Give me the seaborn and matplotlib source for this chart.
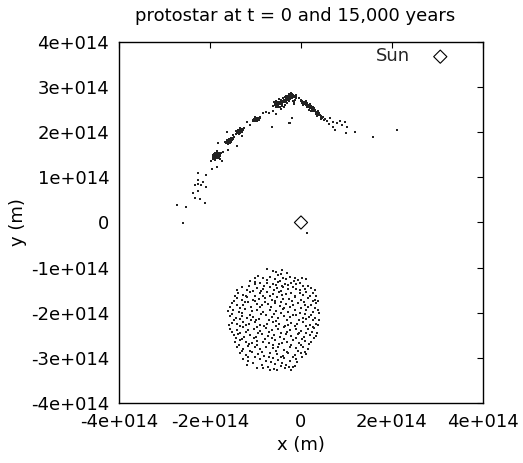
import numpy as np
import pandas as pd
import seaborn as sns
import matplotlib
matplotlib.use("Agg")
import matplotlib.pyplot as plt

# particle positions, in units of 1e14 m
# t = 0 : spherical cloud below the Sun
disk_pts = [
    (-0.75, -1.04), (-0.62, -1.08), (-0.42, -1.06), (-0.44, -1.14),
    (-0.94, -1.18), (-0.83, -1.23), (-0.68, -1.20), (-0.51, -1.17), (-0.24, -1.20),
    (-0.13, -1.23), (-1.12, -1.30), (-1.01, -1.31), (-0.57, -1.26), (-0.46, -1.29),
    (-0.32, -1.25), (-0.06, -1.27), (0.12, -1.26),
    (-1.14, -1.40), (-0.90, -1.34), (-0.75, -1.33), (-0.61, -1.37), (-0.50, -1.32),
    (-0.35, -1.36), (-0.21, -1.34), (-0.02, -1.33), (0.05, -1.40),
    (-1.30, -1.44), (-1.19, -1.50), (-0.97, -1.45), (-0.83, -1.47), (-0.68, -1.42),
    (-0.53, -1.46), (-0.39, -1.43), (-0.17, -1.42), (-0.10, -1.47), (0.23, -1.46),
    (-1.38, -1.56), (-1.27, -1.60), (-1.12, -1.55), (-1.01, -1.62), (-0.90, -1.57),
    (-0.75, -1.55), (-0.61, -1.59), (-0.48, -1.53), (-0.32, -1.58), (-0.21, -1.56),
    (-0.02, -1.57), (0.12, -1.53), (0.27, -1.57), (0.34, -1.62),
    (-1.41, -1.68), (-1.30, -1.71), (-1.18, -1.66), (-1.05, -1.72), (-0.92, -1.69),
    (-0.79, -1.68), (-0.64, -1.71), (-0.53, -1.66), (-0.39, -1.69), (-0.26, -1.70),
    (-0.13, -1.65), (0.01, -1.71), (0.16, -1.68), (0.31, -1.72),
    (-1.52, -1.79), (-1.40, -1.82), (-1.28, -1.83), (-1.16, -1.77), (-0.97, -1.80),
    (-0.86, -1.83), (-0.72, -1.81), (-0.57, -1.78), (-0.46, -1.84), (-0.32, -1.81),
    (-0.17, -1.83), (-0.06, -1.79), (0.09, -1.82), (0.23, -1.83), (0.34, -1.78),
    (-1.60, -1.96), (-1.49, -1.93), (-1.36, -1.98), (-1.23, -1.92), (-1.08, -1.97),
    (-0.96, -1.94), (-0.83, -1.99), (-0.68, -1.94), (-0.55, -1.96), (-0.40, -1.92),
    (-0.28, -1.98), (-0.13, -1.95), (-0.02, -2.00), (0.12, -1.94), (0.27, -1.98),
    (0.38, -1.93),
    (-1.56, -2.07), (-1.43, -2.11), (-1.30, -2.07), (-1.18, -2.12), (-1.05, -2.09),
    (-0.92, -2.13), (-0.77, -2.06), (-0.64, -2.10), (-0.50, -2.12), (-0.37, -2.07),
    (-0.24, -2.10), (-0.10, -2.06), (0.04, -2.12), (0.18, -2.09), (0.31, -2.11),
    (0.40, -2.16),
    (-1.52, -2.22), (-1.40, -2.25), (-1.27, -2.20), (-1.14, -2.24), (-1.01, -2.21),
    (-0.90, -2.27), (-0.75, -2.24), (-0.61, -2.20), (-0.48, -2.26), (-0.35, -2.30),
    (-0.21, -2.22), (-0.08, -2.25), (0.05, -2.21), (0.20, -2.27), (0.34, -2.24),
    (-1.55, -2.35), (-1.41, -2.38), (-1.28, -2.32), (-1.16, -2.39), (-1.03, -2.35),
    (-0.90, -2.40), (-0.77, -2.34), (-0.64, -2.38), (-0.50, -2.36), (-0.37, -2.32),
    (-0.24, -2.39), (-0.11, -2.35), (0.01, -2.41), (0.16, -2.37), (0.29, -2.34),
    (-1.48, -2.49), (-1.38, -2.47), (-1.25, -2.53), (-1.12, -2.49), (-0.99, -2.53),
    (-0.86, -2.46), (-0.72, -2.52), (-0.59, -2.49), (-0.46, -2.54), (-0.33, -2.47),
    (-0.21, -2.52), (-0.06, -2.48), (0.07, -2.53), (0.20, -2.49), (0.33, -2.52),
    (-1.46, -2.64), (-1.34, -2.61), (-1.21, -2.65), (-1.08, -2.66), (-0.96, -2.62),
    (-0.83, -2.64), (-0.70, -2.68), (-0.57, -2.61), (-0.42, -2.66), (-0.30, -2.64),
    (-0.17, -2.60), (-0.04, -2.66), (0.09, -2.62), (0.23, -2.64),
    (-1.41, -2.77), (-1.28, -2.80), (-1.16, -2.74), (-1.01, -2.77), (-0.90, -2.81),
    (-0.77, -2.75), (-0.62, -2.79), (-0.50, -2.76), (-0.37, -2.82), (-0.24, -2.75),
    (-0.10, -2.79), (0.04, -2.77), (0.16, -2.81),
    (-1.34, -2.90), (-1.21, -2.94), (-1.08, -2.88), (-0.94, -2.92), (-0.81, -2.95),
    (-0.68, -2.89), (-0.53, -2.92), (-0.40, -2.96), (-0.28, -2.90), (-0.13, -2.94),
    (-0.01, -2.89), (0.12, -2.92),
    (-1.27, -3.03), (-1.16, -3.07), (-0.90, -3.03), (-0.77, -3.06), (-0.62, -3.01),
    (-0.50, -3.05), (-0.37, -3.01), (-0.24, -3.06), (-0.11, -3.03),
    (-1.18, -3.16), (-0.86, -3.16), (-0.72, -3.20), (-0.57, -3.14), (-0.45, -3.18),
    (-0.32, -3.16), (-0.17, -3.20), (-0.83, -3.23), (-0.68, -3.26), (-0.52, -3.27),
    (-0.35, -3.23), (-0.21, -3.26), (-0.13, -3.18),
    # second pass, points between the rows above
    (-0.55, -1.10), (-0.30, -1.12),
    (-1.00, -1.24), (-0.75, -1.27), (-0.40, -1.23), (-0.15, -1.29), (0.02, -1.22),
    (-1.02, -1.37), (-0.82, -1.40), (-0.56, -1.38), (-0.42, -1.41), (-0.28, -1.38),
    (-0.10, -1.36), (0.15, -1.40),
    (-1.40, -1.49), (-1.06, -1.51), (-0.88, -1.52), (-0.60, -1.50), (-0.44, -1.52),
    (-0.28, -1.48), (-0.03, -1.50), (0.08, -1.47), (0.30, -1.50),
    (-1.45, -1.63), (-1.20, -1.62), (-0.84, -1.64), (-0.68, -1.62), (-0.42, -1.61),
    (-0.14, -1.63), (0.05, -1.60), (0.20, -1.64),
    (-1.48, -1.74), (-1.22, -1.76), (-1.00, -1.75), (-0.78, -1.77), (-0.58, -1.74),
    (-0.45, -1.76), (-0.20, -1.75), (0.06, -1.76), (0.26, -1.73), (0.38, -1.75),
    (-1.55, -1.88), (-1.33, -1.89), (-1.10, -1.87), (-0.90, -1.88), (-0.65, -1.88),
    (-0.38, -1.90), (-0.24, -1.87), (0.00, -1.89), (0.16, -1.87), (0.30, -1.90),
    (-1.52, -2.03), (-1.30, -2.01), (-1.12, -2.04), (-0.88, -2.02), (-0.60, -2.03),
    (-0.44, -2.01), (-0.18, -2.04), (0.08, -2.02), (0.22, -2.04), (0.40, -2.01),
    (-1.48, -2.16), (-1.35, -2.14), (-1.10, -2.17), (-0.98, -2.15), (-0.70, -2.16),
    (-0.55, -2.18), (-0.30, -2.15), (-0.04, -2.17), (0.12, -2.14), (0.26, -2.16),
    (-1.58, -2.28), (-1.33, -2.30), (-1.20, -2.28), (-0.96, -2.31), (-0.82, -2.29),
    (-0.55, -2.30), (-0.28, -2.27), (-0.14, -2.30), (0.10, -2.29), (0.26, -2.31),
    (0.38, -2.28),
    (-1.52, -2.43), (-1.34, -2.44), (-1.20, -2.42), (-0.95, -2.44), (-0.70, -2.43),
    (-0.44, -2.44), (-0.30, -2.42), (-0.05, -2.44), (0.11, -2.45), (0.24, -2.42),
    (0.36, -2.44),
    (-1.42, -2.57), (-1.30, -2.58), (-1.04, -2.56), (-0.80, -2.58), (-0.64, -2.57),
    (-0.38, -2.59), (-0.12, -2.57), (0.02, -2.58), (0.28, -2.57),
    (-1.36, -2.71), (-1.14, -2.70), (-0.96, -2.72), (-0.62, -2.71), (-0.48, -2.70),
    (-0.22, -2.72), (0.00, -2.71), (0.18, -2.70),
    (-1.30, -2.85), (-1.12, -2.84), (-0.86, -2.86), (-0.56, -2.85), (-0.30, -2.86),
    (-0.06, -2.84), (0.08, -2.86),
    (-1.16, -2.98), (-1.00, -2.99), (-0.70, -2.97), (-0.44, -2.99), (-0.18, -2.98),
    (0.02, -2.97),
    (-1.05, -3.11), (-0.66, -3.10), (-0.42, -3.11), (-0.08, -3.09),
    (-0.96, -3.22), (-0.60, -3.24), (-0.26, -3.21),
]

# t = 15,000 years : stretched arc with clumps
arc_pts = [
    # sparse lower end
    (-2.59, -0.01), (-2.73, 0.39), (-2.53, 0.34), (-2.11, 0.43), (-2.33, 0.54),
    (-2.22, 0.52), (-2.37, 0.65), (-2.26, 0.70), (-2.09, 0.79), (-2.20, 0.83),
    (-2.33, 0.83), (-2.26, 0.85), (-2.15, 0.90), (-2.26, 0.94), (-2.09, 1.05),
    (-2.26, 1.10), (-1.96, 1.19), (-1.85, 1.23), (0.13, -0.23),
    # clump 1
    (-1.92, 1.45), (-1.88, 1.48), (-1.85, 1.52), (-1.82, 1.55), (-1.80, 1.50),
    (-1.86, 1.42), (-1.90, 1.55), (-1.78, 1.47), (-1.84, 1.58), (-1.94, 1.50),
    (-1.87, 1.46), (-1.83, 1.49), (-1.89, 1.51), (-1.81, 1.44), (-1.76, 1.53),
    (-1.93, 1.40), (-1.88, 1.39), (-1.79, 1.40), (-1.98, 1.36), (-1.74, 1.37),
    (-1.71, 1.56), (-1.60, 1.61), (-1.82, 1.76),
    (-1.91, 1.47), (-1.89, 1.44), (-1.86, 1.49), (-1.84, 1.45), (-1.82, 1.52),
    (-1.80, 1.46), (-1.78, 1.51), (-1.87, 1.55), (-1.85, 1.56), (-1.91, 1.52),
    (-1.93, 1.46), (-1.83, 1.42), (-1.80, 1.55), (-1.88, 1.43), (-1.86, 1.45),
    (-1.84, 1.53),
    # clump 2
    (-1.64, 1.76), (-1.60, 1.78), (-1.56, 1.80), (-1.52, 1.83), (-1.58, 1.85),
    (-1.62, 1.82), (-1.54, 1.87), (-1.50, 1.86), (-1.48, 1.89), (-1.60, 1.74),
    (-1.57, 1.77), (-1.53, 1.79), (-1.66, 1.79), (-1.55, 1.84),
    (-1.63, 1.78), (-1.61, 1.80), (-1.59, 1.81), (-1.57, 1.83), (-1.55, 1.82),
    (-1.53, 1.85), (-1.51, 1.84), (-1.59, 1.76), (-1.56, 1.86), (-1.62, 1.77),
    (-1.50, 1.88), (-1.58, 1.79),
    (-1.63, 2.00), (-1.49, 1.94), (-1.40, 1.70),
    # clump 3
    (-1.43, 1.96), (-1.40, 1.99), (-1.36, 2.02), (-1.32, 2.05), (-1.28, 2.08),
    (-1.38, 2.06), (-1.34, 1.98), (-1.30, 2.01), (-1.26, 2.10), (-1.42, 2.02),
    (-1.35, 2.09), (-1.29, 2.04),
    (-1.41, 1.98), (-1.39, 2.02), (-1.37, 1.99), (-1.35, 2.04), (-1.33, 2.01),
    (-1.31, 2.07), (-1.29, 2.06), (-1.27, 2.05), (-1.38, 2.01), (-1.34, 2.06),
    (-1.36, 1.96),
    (-1.19, 2.23), (-1.12, 2.16), (-1.30, 1.92),
    # clump 4
    (-1.06, 2.25), (-1.02, 2.27), (-0.98, 2.29), (-0.94, 2.31), (-0.90, 2.32),
    (-1.04, 2.30), (-0.96, 2.25), (-1.00, 2.33), (-0.92, 2.28),
    (-1.05, 2.28), (-1.01, 2.30), (-0.99, 2.26), (-0.97, 2.32), (-0.95, 2.28),
    (-0.93, 2.30), (-1.03, 2.25), (-0.91, 2.33), (-0.97, 2.27),
    (-0.84, 2.43), (-0.76, 2.45), (-0.70, 2.43), (-0.62, 2.48), (-0.56, 2.40),
    (-0.64, 2.12), (-0.24, 2.20), (-0.20, 2.32), (-0.26, 2.20),
    # top clump
    (-0.62, 2.58), (-0.58, 2.62), (-0.55, 2.56), (-0.52, 2.64), (-0.50, 2.60),
    (-0.48, 2.68), (-0.45, 2.62), (-0.43, 2.70), (-0.40, 2.66), (-0.38, 2.72),
    (-0.35, 2.68), (-0.33, 2.75), (-0.30, 2.72), (-0.28, 2.78), (-0.25, 2.74),
    (-0.22, 2.80), (-0.20, 2.76), (-0.17, 2.82), (-0.15, 2.78), (-0.12, 2.80),
    (-0.10, 2.76), (-0.47, 2.55), (-0.42, 2.58), (-0.36, 2.61), (-0.31, 2.65),
    (-0.26, 2.69), (-0.60, 2.66), (-0.54, 2.70), (-0.48, 2.73), (-0.40, 2.76),
    (-0.34, 2.80), (-0.27, 2.84), (-0.22, 2.86), (-0.18, 2.70), (-0.14, 2.72),
    (-0.44, 2.52), (-0.38, 2.55), (-0.15, 2.62), (-0.15, 2.67),
    (-0.58, 2.60), (-0.55, 2.63), (-0.53, 2.59), (-0.51, 2.66), (-0.49, 2.63),
    (-0.46, 2.66), (-0.44, 2.64), (-0.41, 2.68), (-0.39, 2.69), (-0.37, 2.70),
    (-0.34, 2.72), (-0.32, 2.70), (-0.29, 2.75), (-0.27, 2.73), (-0.24, 2.77),
    (-0.21, 2.78), (-0.19, 2.80), (-0.16, 2.80), (-0.13, 2.78), (-0.11, 2.82),
    (-0.24, 2.82), (-0.30, 2.80), (-0.36, 2.77), (-0.45, 2.72), (-0.52, 2.68),
    (-0.56, 2.66), (-0.20, 2.84), (-0.26, 2.80), (-0.50, 2.57), (-0.41, 2.62),
    # tail to the right
    (-0.05, 2.75), (0.00, 2.72), (0.03, 2.70), (0.06, 2.68), (0.09, 2.66),
    (0.12, 2.63), (0.15, 2.60), (0.18, 2.58), (0.21, 2.55), (0.24, 2.52),
    (0.27, 2.50), (0.30, 2.47), (0.33, 2.45), (0.36, 2.42), (0.39, 2.40),
    (0.42, 2.38), (0.45, 2.36), (0.48, 2.34), (0.02, 2.65), (0.08, 2.62),
    (0.14, 2.55), (0.20, 2.62), (0.26, 2.56), (0.32, 2.40), (0.38, 2.46),
    (0.44, 2.30), (0.10, 2.70), (0.05, 2.60), (0.17, 2.50), (0.23, 2.46),
    (0.29, 2.53), (0.35, 2.36), (0.50, 2.28), (0.53, 2.30),
    (0.01, 2.70), (0.04, 2.66), (0.07, 2.65), (0.11, 2.60), (0.13, 2.65),
    (0.16, 2.57), (0.19, 2.53), (0.22, 2.58), (0.25, 2.48), (0.28, 2.46),
    (0.31, 2.50), (0.34, 2.42), (0.37, 2.38), (0.40, 2.42), (0.43, 2.34),
    (0.46, 2.32),
    (0.64, 2.32), (0.70, 2.23), (0.80, 2.20), (0.85, 2.25), (0.97, 2.23),
    (0.70, 2.12), (0.75, 2.05), (1.01, 2.12), (0.99, 1.98), (1.19, 2.00),
    (1.58, 1.90), (2.11, 2.05), (0.58, 2.26), (0.62, 2.18), (0.90, 2.15),
]

sun_x = [0.0]
sun_y = [0.0]

x_ticks = [-4, -2, 0, 2, 4]
x_tick_labels = ["-4e+014", "-2e+014", "0", "2e+014", "4e+014"]
y_ticks = [-4, -3, -2, -1, 0, 1, 2, 3, 4]
y_tick_labels = ["-4e+014", "-3e+014", "-2e+014", "-1e+014", "0",
                 "1e+014", "2e+014", "3e+014", "4e+014"]

scale = 1e14
particles = pd.DataFrame(disk_pts + arc_pts, columns=["x", "y"]) * scale
sun = pd.DataFrame({"x": np.array(sun_x) * scale, "y": np.array(sun_y) * scale})

sns.set_theme(style="white")
plt.rcParams["font.family"] = ["DejaVu Sans"]

fig = plt.figure(figsize=(5.23, 4.63), dpi=100)
ax = fig.add_axes([0.2275, 0.1296, 0.696, 0.7797])

sns.scatterplot(data=particles, x="x", y="y", ax=ax, color="#222222",
                marker="s", s=2.5, linewidth=0, legend=False)
sns.scatterplot(data=sun, x="x", y="y", ax=ax, marker="D", s=45,
                facecolors="none", edgecolor="black", linewidth=0.8, label="Sun")

ax.set_xlim(-4 * scale, 4 * scale)
ax.set_ylim(-4 * scale, 4 * scale)
ax.set_xticks([t * scale for t in x_ticks])
ax.set_xticklabels(x_tick_labels)
ax.set_yticks([t * scale for t in y_ticks])
ax.set_yticklabels(y_tick_labels)
ax.tick_params(direction="in", length=4, width=0.8, top=True, right=True,
               labelsize=13, colors="black", pad=7)
for sp in ax.spines.values():
    sp.set_color("black")
    sp.set_linewidth(1.0)

ax.set_xlabel("x (m)", fontsize=13, color="black", labelpad=4)
ax.set_ylabel("y (m)", fontsize=13, color="black", labelpad=3)
ax.set_title("protostar at t = 0 and 15,000 years", fontsize=13, color="black",
             pad=15, x=0.484)

ax.legend(loc="upper right", bbox_to_anchor=(0.967, 1.02), markerfirst=False,
          frameon=False, fontsize=13, handletextpad=0.7, borderaxespad=0.3)

fig.savefig("out.png", dpi=100)
